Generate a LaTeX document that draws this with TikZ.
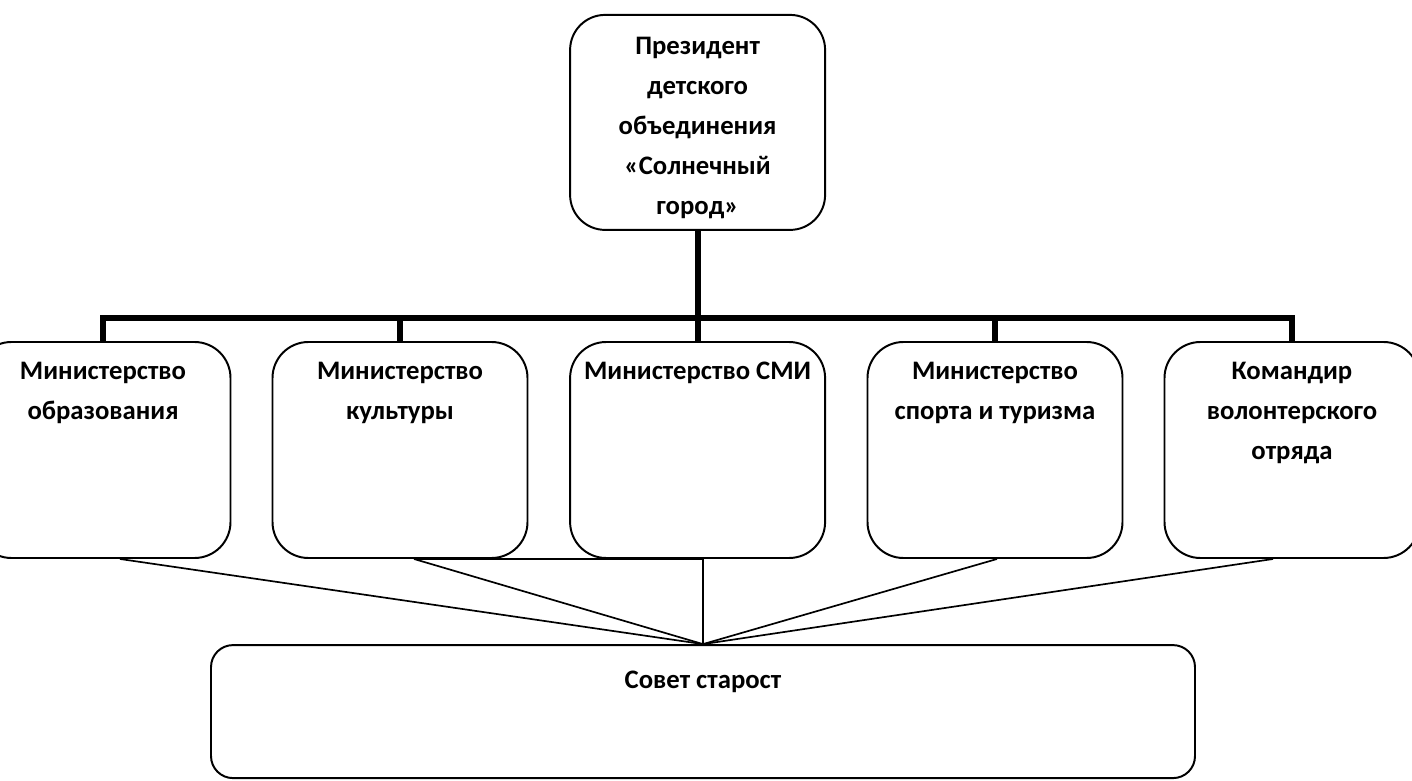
\documentclass[tikz,border=0pt]{standalone}
\usepackage{fontspec}
\setmainfont{Carlito}
\usepackage{tikz}

\begin{document}
\begin{tikzpicture}[
	box/.style={draw, line width=1.4pt, rounded corners=0.9cm, minimum width=6.375cm, minimum height=5.4cm, inner sep=0pt},
	caption/.style={anchor=north, inner sep=0pt, align=center, font=\fontsize{19}{28.5}\selectfont\bfseries},
	trunk/.style={line width=4.3pt},
	link/.style={line width=1.2pt}
	]
		\clip (0,0) rectangle (35.3,19.5);
		% president
		\node[box, rounded corners=0.875cm, minimum height=5.375cm] (pres) at (17.44,16.44) {};
		\node[caption] (prestxt) at ([yshift=-0.575cm]pres.north) {Президент\\детского\\объединения\\«Солнечный\\город»};
		% ministries
		\node[box] (b1) at (2.575,8.25) {};
		\node[box] (b2) at (10,8.25) {};
		\node[box] (b3) at (17.44,8.25) {};
		\node[box] (b4) at (24.875,8.25) {};
		\node[box] (b5) at (32.3,8.25) {};
		\node[caption] (b1txt) at ([yshift=-0.525cm]b1.north) {Министерство\\образования};
		\node[caption] (b2txt) at ([yshift=-0.525cm]b2.north) {Министерство\\культуры};
		\node[caption] (b3txt) at ([yshift=-0.525cm]b3.north) {Министерство СМИ};
		\node[caption] (b4txt) at ([yshift=-0.525cm]b4.north) {Министерство\\спорта и туризма};
		\node[caption] (b5txt) at ([yshift=-0.525cm]b5.north) {Командир\\волонтерского\\отряда};
		% council
		\node[box, rounded corners=0.55cm, minimum width=24.6cm, minimum height=3.325cm] (sovet) at (17.575,1.71) {};
		\node[caption] (sovettxt) at ([yshift=-0.675cm]sovet.north) {Совет старост};
		% tree
		\coordinate (bus) at (0,11.55);
		\draw[trunk] (pres.south) -- (pres.south |- bus);
		\draw[trunk] (b1.north) |- (b5.north |- bus) -- (b5.north);
		\foreach \n in {b2,b3,b4}
		\draw[trunk] (\n.north) -- (\n.north |- bus);
		% links to council
		\draw[link] ([xshift=0.35cm]b2.south) -- (sovet.north |- b3.south) -- (sovet.north);
		\draw[link] ([xshift=0.425cm]b1.south) -- (sovet.north);
		\draw[link] ([xshift=0.35cm]b2.south) -- (sovet.north);
		\draw[link] ([xshift=0.05cm]b4.south) -- (sovet.north);
		\draw[link] ([xshift=-0.475cm]b5.south) -- (sovet.north);
\end{tikzpicture}
\end{document}
